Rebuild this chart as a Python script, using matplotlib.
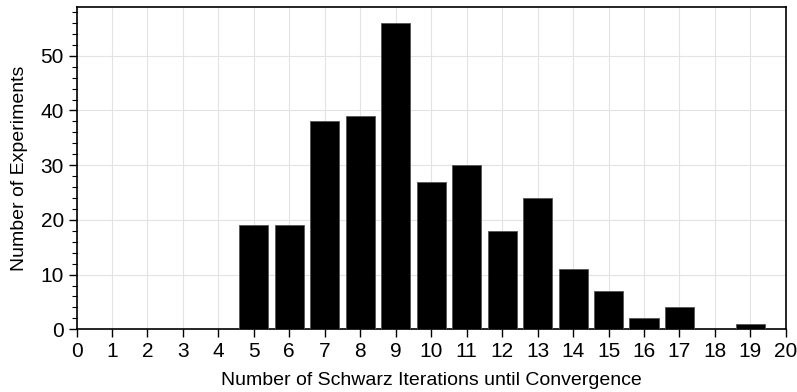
import numpy as np
import matplotlib.pyplot as plt
from matplotlib.ticker import MultipleLocator

# iterations until convergence and number of experiments for each
iterations = [5, 6, 7, 8, 9, 10, 11, 12, 13, 14, 15, 16, 17, 18, 19]
counts = [19, 19, 38, 39, 56, 27, 30, 18, 24, 11, 7, 2, 4, 0, 1]

plt.rcParams["font.family"] = ["Liberation Sans", "DejaVu Sans"]
plt.rcParams["font.size"] = 14

fig, ax = plt.subplots(figsize=(7.97, 3.92), dpi=100)
ax.bar(iterations, counts, width=0.82, color="black", edgecolor="#555555",
       linewidth=0.6, zorder=3)

ax.set_xlim(0, 20)
ax.set_ylim(0, 58.9)
ax.set_xticks(np.arange(0, 21, 1))
ax.yaxis.set_major_locator(MultipleLocator(10))
ax.yaxis.set_minor_locator(MultipleLocator(2))
ax.tick_params(axis="both", which="major", length=6, width=1, direction="out",
               labelsize=15, pad=3)
ax.tick_params(axis="y", which="minor", length=3.5, width=0.8)
ax.grid(True, color="#e3e3e3", linewidth=0.8, zorder=0)
for s in ax.spines.values():
    s.set_linewidth(1.2)

ax.set_xlabel("Number of Schwarz Iterations until Convergence", labelpad=8)
ax.set_ylabel("Number of Experiments", labelpad=9)

fig.subplots_adjust(left=0.096, right=0.986, top=0.982, bottom=0.16)
fig.savefig("out.png", dpi=100)
